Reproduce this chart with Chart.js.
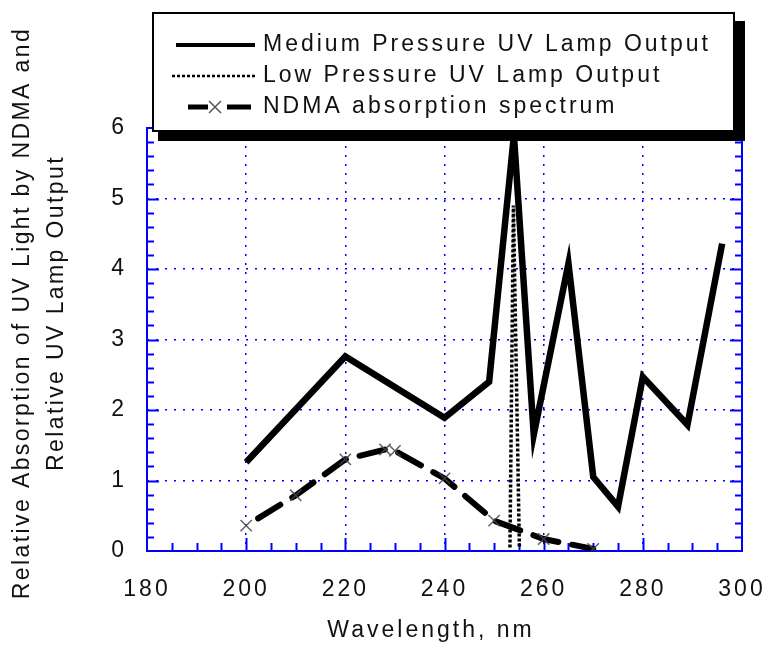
<!DOCTYPE html>
<html>
<head>
<meta charset="utf-8">
<script src="https://cdn.jsdelivr.net/npm/chart.js@4.4.1/dist/chart.umd.min.js"></script>
<style>
  html, body { margin: 0; padding: 0; background: #fff; }
  #wrap { width: 767px; height: 647px; position: relative; }
</style>
</head>
<body>
<div id="wrap"><canvas id="uvChart" width="767" height="647"></canvas></div>
<script>
// --- DATA ---
const seriesLabels = [
  'Medium Pressure UV Lamp Output',
  'Low Pressure UV Lamp Output',
  'NDMA absorption spectrum'
];

// medium pressure lamp
const mediumWavelength = [200, 220, 240, 249, 254, 258, 265, 270, 275, 280, 289, 296];
const mediumOutput     = [1.26, 2.76, 1.89, 2.40, 5.9, 1.65, 4.08, 1.05, 0.63, 2.47, 1.79, 4.36];

// low pressure lamp (254 nm line)
const lowWavelength = [253.2, 253.9, 255.1];
const lowOutput     = [0.05, 4.9, 0.05];

// NDMA absorption
const ndmaWavelength = [200, 210, 220, 228, 230, 240, 250, 260, 270];
const ndmaAbsorption = [0.36, 0.79, 1.30, 1.44, 1.42, 1.03, 0.43, 0.17, 0.03];

// axes
const xTicks = [180, 200, 220, 240, 260, 280, 300];
const yTicks = [0, 1, 2, 3, 4, 5, 6];
const xMinorStep = 5;
const yMinorStep = 0.2;

const xTitle = 'Wavelength, nm';
const yTitle = ['Relative Absorption of UV Light by NDMA and', 'Relative UV Lamp Output'];

// --- STYLE ---
const FONT = '"Liberation Sans", Arial, sans-serif';
const BLUE = '#0000ff';
const TEXT = '#111';

function pairs(xs, ys) {
  return xs.map((x, i) => ({ x: x, y: ys[i] }));
}

// letter spacing like the scanned figure
const spacingPlugin = {
  id: 'spacing',
  beforeDraw(chart) {
    chart.ctx.letterSpacing = '3px';
  }
};

// blue frame with inward ticks on all four sides
const framePlugin = {
  id: 'frame',
  beforeDatasetsDraw(chart) {
    const { ctx, chartArea: a, scales: { x, y } } = chart;
    ctx.save();
    ctx.strokeStyle = BLUE;
    ctx.lineWidth = 2;
    ctx.beginPath();
    const xMin = xTicks[0], xMax = xTicks[xTicks.length - 1];
    const nx = Math.round((xMax - xMin) / xMinorStep);
    for (let i = 1; i < nx; i++) {
      const v = xMin + i * xMinorStep;
      const px = Math.round(x.getPixelForValue(v)) + 0.5;
      const len = xTicks.includes(v) ? 13 : 8;
      ctx.moveTo(px, a.bottom); ctx.lineTo(px, a.bottom - len);
      ctx.moveTo(px, a.top); ctx.lineTo(px, a.top + len);
    }
    const yMin = yTicks[0], yMax = yTicks[yTicks.length - 1];
    const ny = Math.round((yMax - yMin) / yMinorStep);
    for (let i = 1; i < ny; i++) {
      const v = yMin + i * yMinorStep;
      const py = Math.round(y.getPixelForValue(v)) + 0.5;
      const len = i % 5 === 0 ? 12 : 7;
      ctx.moveTo(a.left, py); ctx.lineTo(a.left + len, py);
      ctx.moveTo(a.right, py); ctx.lineTo(a.right - len, py);
    }
    ctx.stroke();
    ctx.strokeRect(a.left, a.top, a.right - a.left, a.bottom - a.top);
    ctx.restore();
  }
};

// axis titles (the originals sit a bit off the axis centres)
const titlesPlugin = {
  id: 'titles',
  afterDraw(chart) {
    const ctx = chart.ctx;
    ctx.save();
    ctx.fillStyle = TEXT;
    ctx.font = '23px ' + FONT;
    ctx.textAlign = 'center';
    ctx.textBaseline = 'middle';
    ctx.letterSpacing = '3px';
    ctx.fillText(xTitle, 431, 631);
    ctx.letterSpacing = '2.4px';
    ctx.translate(0, 313);
    ctx.rotate(-Math.PI / 2);
    ctx.fillText(yTitle[0], 0, 23);
    ctx.fillText(yTitle[1], 0, 57);
    ctx.restore();
  }
};

// boxed legend with heavy drop shadow
const boxLegendPlugin = {
  id: 'boxLegend',
  afterDraw(chart) {
    const ctx = chart.ctx;
    const left = 152, top = 12, w = 583, h = 120, shadow = 9;
    ctx.save();
    ctx.fillStyle = '#000';
    ctx.fillRect(left + 6, top + shadow, w + shadow - 6 + 1, h);
    ctx.fillStyle = '#fff';
    ctx.fillRect(left, top, w, h);
    ctx.strokeStyle = '#000';
    ctx.lineWidth = 2;
    ctx.strokeRect(left + 1, top + 1, w - 2, h - 2);

    const rows = [45, 76, 107];
    const sx0 = 168, sx1 = 255;
    ctx.strokeStyle = '#000';

    // medium
    ctx.lineWidth = 4;
    ctx.setLineDash([]);
    ctx.beginPath(); ctx.moveTo(sx0 + 8, rows[0]); ctx.lineTo(sx1, rows[0]); ctx.stroke();
    // low
    ctx.lineWidth = 2.5;
    ctx.setLineDash([3, 2]);
    ctx.beginPath(); ctx.moveTo(sx0 + 4, rows[1]); ctx.lineTo(sx1, rows[1]); ctx.stroke();
    // ndma
    ctx.setLineDash([]);
    ctx.lineWidth = 5;
    ctx.beginPath();
    ctx.moveTo(188, rows[2]); ctx.lineTo(208, rows[2]);
    ctx.moveTo(227, rows[2]); ctx.lineTo(251, rows[2]);
    ctx.stroke();
    ctx.strokeStyle = '#555';
    ctx.lineWidth = 1.5;
    ctx.beginPath();
    ctx.moveTo(209, rows[2] - 6); ctx.lineTo(221, rows[2] + 6);
    ctx.moveTo(209, rows[2] + 6); ctx.lineTo(221, rows[2] - 6);
    ctx.stroke();

    ctx.fillStyle = TEXT;
    ctx.font = '23px ' + FONT;
    ctx.textBaseline = 'middle';
    ctx.textAlign = 'left';
    seriesLabels.forEach((t, i) => ctx.fillText(t, 263, rows[i]));
    ctx.restore();
  }
};

const ctx = document.getElementById('uvChart');
new Chart(ctx, {
  type: 'line',
  data: {
    datasets: [
      {
        label: seriesLabels[0],
        data: pairs(mediumWavelength, mediumOutput),
        borderColor: '#000',
        borderWidth: 6.5,
        borderJoinStyle: 'miter',
        pointRadius: 0,
        tension: 0
      },
      {
        label: seriesLabels[1],
        data: pairs(lowWavelength, lowOutput),
        borderColor: '#000',
        borderWidth: 3.5,
        borderDash: [3, 2],
        pointRadius: 0,
        tension: 0
      },
      {
        label: seriesLabels[2],
        data: pairs(ndmaWavelength, ndmaAbsorption),
        borderColor: '#000',
        borderWidth: 6,
        borderDash: [26, 14],
        borderDashOffset: 26,
        borderCapStyle: 'round',
        pointStyle: 'crossRot',
        pointRadius: 8,
        pointBorderColor: 'rgba(70,70,70,0.85)',
        pointBorderWidth: 1.5,
        pointBackgroundColor: 'transparent',
        tension: 0
      }
    ]
  },
  options: {
    responsive: false,
    animation: false,
    devicePixelRatio: 1,
    layout: { padding: { top: 128, right: 25, left: 0, bottom: 0 } },
    plugins: {
      legend: { display: false },
      tooltip: { enabled: false }
    },
    scales: {
      x: {
        type: 'linear',
        min: xTicks[0],
        max: xTicks[xTicks.length - 1],
        afterBuildTicks: (s) => { s.ticks = xTicks.map(v => ({ value: v })); },
        afterFit: (s) => {
          s.height = 96;
          // tick padding is meant vertically only
          s.paddingLeft = 0;
          s.paddingRight = 0;
        },
        ticks: {
          color: TEXT,
          font: { family: FONT, size: 23 },
          padding: 25,
          autoSkip: false,
          maxRotation: 0
        },
        grid: {
          drawTicks: false,
          color: (c) => (c.tick && (c.tick.value === xTicks[0] || c.tick.value === xTicks[xTicks.length - 1])) ? 'rgba(0,0,0,0)' : BLUE,
          lineWidth: 1.5
        },
        border: { display: false, dash: [2, 7] }
      },
      y: {
        min: yTicks[0],
        max: yTicks[yTicks.length - 1],
        afterBuildTicks: (s) => { s.ticks = yTicks.map(v => ({ value: v })); },
        afterFit: (s) => { s.width = 147; },
        ticks: {
          color: TEXT,
          font: { family: FONT, size: 23 },
          padding: 20
        },
        grid: {
          drawTicks: false,
          color: (c) => (c.tick && (c.tick.value === yTicks[0] || c.tick.value === yTicks[yTicks.length - 1])) ? 'rgba(0,0,0,0)' : BLUE,
          lineWidth: 1.5
        },
        border: { display: false, dash: [2, 7] }
      }
    }
  },
  plugins: [spacingPlugin, framePlugin, titlesPlugin, boxLegendPlugin]
});
</script>
</body>
</html>
